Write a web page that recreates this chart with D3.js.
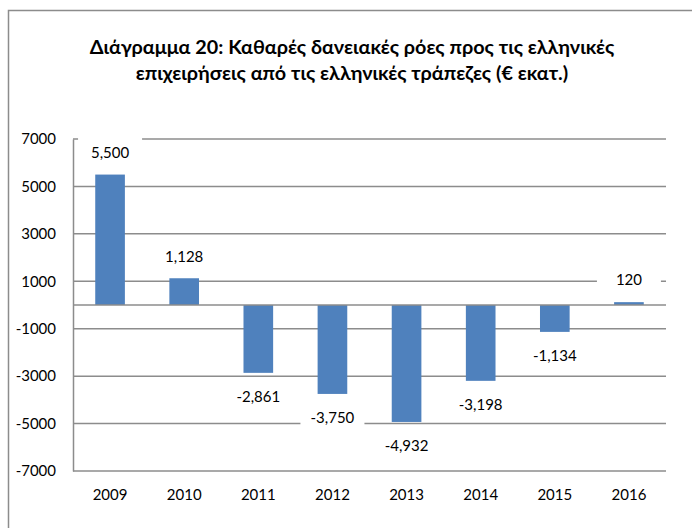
<!DOCTYPE html>
<html><head><meta charset="utf-8">
<script src="https://cdn.jsdelivr.net/npm/d3@7"></script>
<style>body{margin:0;background:#fff}svg{display:block}text{font-family:Lato,"Open Sans",sans-serif}</style>
</head><body><svg id="c" width="692" height="528"></svg>
<script>
const categories = ["2009","2010","2011","2012","2013","2014","2015","2016"];
const values = [5500, 1128, -2861, -3750, -4932, -3198, -1134, 120];
const yTicks = [7000, 5000, 3000, 1000, -1000, -3000, -5000, -7000];
const titleLines = ["Διάγραμμα 20: Καθαρές δανειακές ρόες προς τις ελληνικές", "επιχειρήσεις από τις ελληνικές τράπεζες (€ εκατ.)"];

(function(){
const svg = d3.select("#c");
const W = 692, H = 528;
const mLeft = 73, mRight = 666, mTop = 139, mBottom = 471;
const hy = s => s.replace(/\u2212/g, "-");

// outer border
svg.append("path").attr("d", `M8.5,${H} V10.5 H${W}`).attr("fill","none").attr("stroke","#8c8c8c").attr("stroke-width",1.5);

// title
svg.append("g").selectAll("text").data(titleLines).join("text")
  .attr("x", 352).attr("y", (d,i)=> 54 + i*26)
  .attr("text-anchor","middle").attr("font-size",19.8).attr("font-weight","bold").attr("fill","#000")
  .text(d=>d);

const x = d3.scaleBand().domain(categories).range([mLeft,mRight]).paddingInner(0.6).paddingOuter(0.3);
const y = d3.scaleLinear().domain([-7000,7000]).range([mBottom, mTop]);

// gridlines
svg.append("g").selectAll("line").data(yTicks).join("line")
  .attr("x1", mLeft).attr("x2", mRight).attr("y1", d=>y(d)).attr("y2", d=>y(d))
  .attr("stroke","#8c8c8c").attr("stroke-width",1.5);

// y axis
const yAxis = d3.axisLeft(y).tickValues(yTicks).tickSize(0).tickPadding(17).tickFormat(d => hy(d3.format("d")(d)));
const ya = svg.append("g").attr("transform",`translate(${mLeft},0)`).call(yAxis);
ya.select(".domain").attr("stroke","#8c8c8c").attr("stroke-width",1.5);
ya.selectAll("text").attr("font-size",15).attr("fill","#000").style("font-family","Lato,'Open Sans',sans-serif");

// bars
svg.append("g").selectAll("rect").data(values).join("rect")
  .attr("x",(d,i)=>x(categories[i])).attr("width",x.bandwidth())
  .attr("y",d=>y(Math.max(0,d))).attr("height",d=>Math.abs(y(d)-y(0)))
  .attr("fill","#4F81BD");

// zero line
svg.append("line").attr("x1",mLeft).attr("x2",mRight).attr("y1",y(0)).attr("y2",y(0))
  .attr("stroke","#8c8c8c").attr("stroke-width",1.5);

// x labels
const xAxis = d3.axisBottom(x).tickSize(0).tickPadding(18);
const xa = svg.append("g").attr("transform",`translate(0,${mBottom})`).call(xAxis);
xa.select(".domain").remove();
xa.selectAll("text").attr("font-size",15).attr("fill","#000").style("font-family","Lato,'Open Sans',sans-serif");

// data labels with white background
const fmt = d3.format(",");
const lg = svg.append("g").selectAll("g").data(values).join("g")
  .attr("transform",(d,i)=>`translate(${x(categories[i])+x.bandwidth()/2},${d>=0 ? y(d)-22 : y(d)+24})`);
lg.append("rect").attr("x",-32).attr("y",-15).attr("width",64).attr("height",30).attr("fill","#fff");
lg.append("text").attr("text-anchor","middle").attr("dy","0.35em").attr("font-size",15).attr("fill","#000").text(d=>hy(fmt(d)));
})();
</script></body></html>
